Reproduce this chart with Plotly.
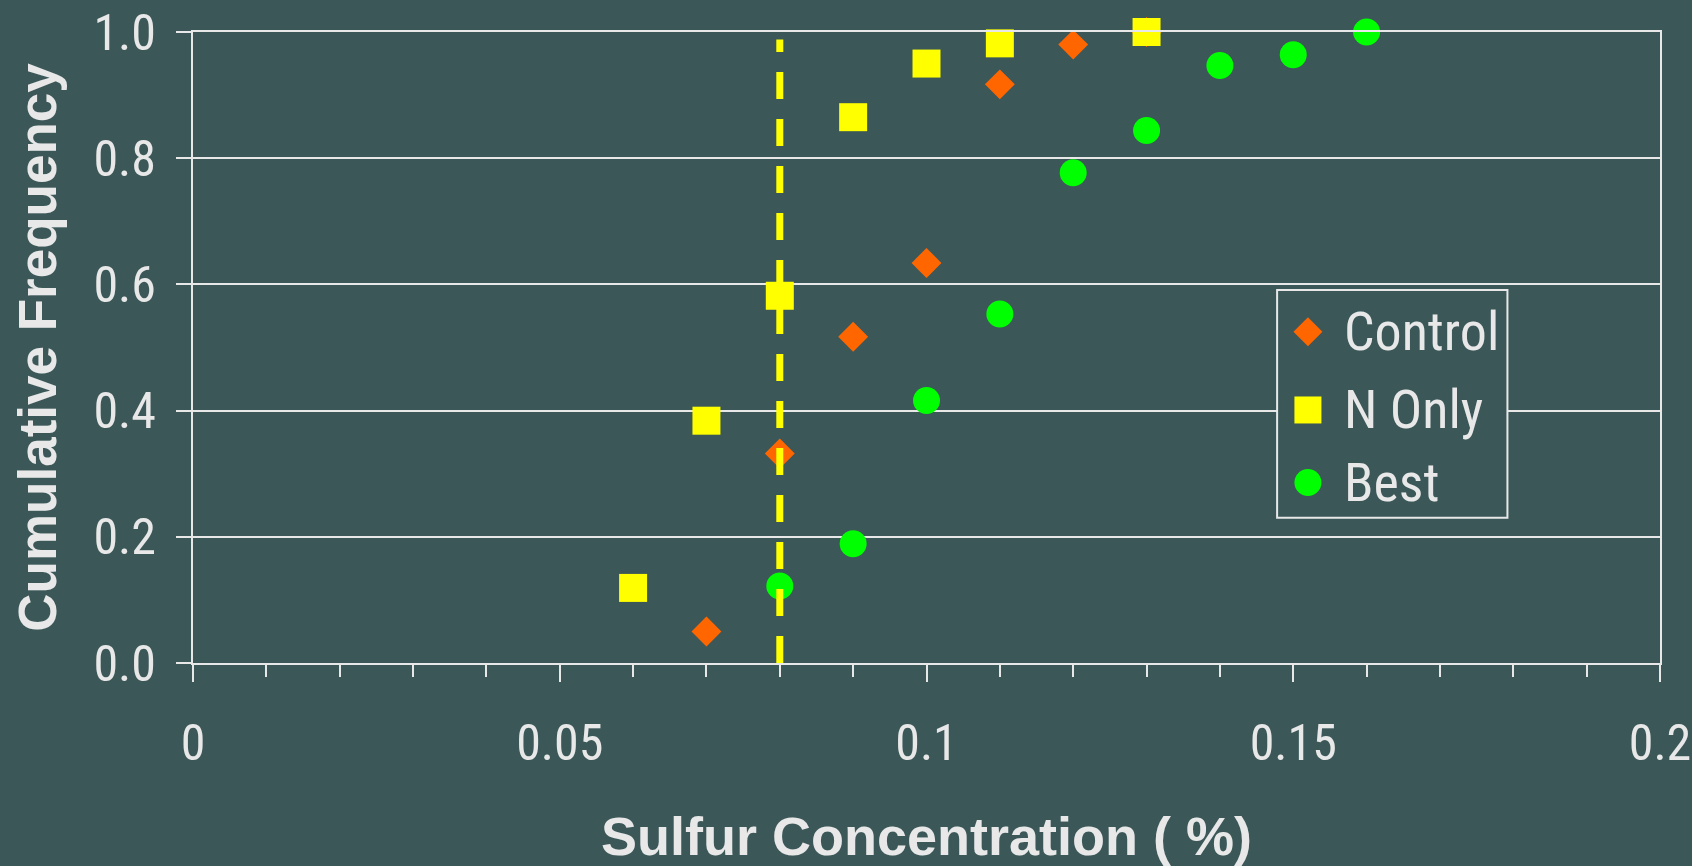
import plotly.graph_objects as go

# ---------------- data ----------------
series_names = ["Control", "N Only", "Best"]

control_x = [0.07, 0.08, 0.09, 0.10, 0.11, 0.12, 0.13]
control_y = [0.050, 0.332, 0.517, 0.634, 0.917, 0.980, 1.000]

nonly_x = [0.06, 0.07, 0.08, 0.09, 0.10, 0.11, 0.13]
nonly_y = [0.119, 0.384, 0.582, 0.865, 0.950, 0.982, 1.000]

best_x = [0.08, 0.09, 0.10, 0.11, 0.12, 0.13, 0.14, 0.15, 0.16]
best_y = [0.122, 0.189, 0.416, 0.553, 0.777, 0.844, 0.947, 0.964, 1.000]

threshold_x = [0.08, 0.08]
threshold_y = [0.0, 0.988]

x_range = [0, 0.2]
y_range = [0, 1]
x_tickvals = [0, 0.05, 0.1, 0.15, 0.2]
x_ticktext = ["0", "0.05", "0.1", "0.15", "0.2"]
y_tickvals = [0.0, 0.2, 0.4, 0.6, 0.8, 1.0]
y_ticktext = ["0.0", "0.2", "0.4", "0.6", "0.8", "1.0"]

x_title = "Sulfur Concentration ( %)"
y_title = "Cumulative Frequency"

# ---------------- styles ----------------
BG = "#3B5758"
FG = "#E8E8E8"
NARROW = "Roboto Condensed, Liberation Sans Narrow, Arial Narrow, Liberation Sans, sans-serif"
BOLD = "Liberation Sans, Arial, sans-serif"
colors = ["#FF6600", "#FFFF00", "#00FF00"]
symbols = ["diamond", "square", "circle"]
sizes = [23, 28, 27]

fig = go.Figure()

for name, xs, ys, c, s, sz in zip(series_names,
                                  [control_x, nonly_x, best_x],
                                  [control_y, nonly_y, best_y],
                                  colors, symbols, sizes):
    fig.add_trace(go.Scatter(
        x=xs, y=ys, mode="markers", name=name, showlegend=False,
        cliponaxis=False,
        marker=dict(color=c, symbol=s, size=sz, line=dict(width=0)),
    ))

fig.add_trace(go.Scatter(
    x=threshold_x, y=threshold_y, mode="lines", showlegend=False,
    line=dict(color="#FFFF00", width=7, dash="27px,20px"),
    hoverinfo="skip",
))

# ---------------- custom legend (large symbols, like the original) ----------------
leg_x0, leg_x1 = 0.739, 0.896
leg_y0, leg_y1 = 0.230, 0.591
leg_sym_x = 0.760
leg_txt_x = 0.783
leg_rows = [0.525, 0.401, 0.286]
half = 13.5  # legend symbol half-size in pixels

fig.add_shape(type="rect", xref="paper", yref="paper",
              x0=leg_x0, x1=leg_x1, y0=leg_y0, y1=leg_y1,
              line=dict(color=FG, width=2), fillcolor=BG, layer="above")

for name, c, s, yy in zip(series_names, colors, symbols, leg_rows):
    common = dict(xref="paper", yref="paper", xsizemode="pixel", ysizemode="pixel",
                  xanchor=leg_sym_x, yanchor=yy, fillcolor=c,
                  line=dict(width=0), layer="above")
    if s == "circle":
        fig.add_shape(type="circle", x0=-half, x1=half, y0=-half, y1=half, **common)
    elif s == "square":
        fig.add_shape(type="rect", x0=-half, x1=half, y0=-half, y1=half, **common)
    else:
        d = half + 1
        fig.add_shape(type="path",
                      path=f"M0,{d} L{d},0 L0,{-d} L{-d},0 Z", **common)
    fig.add_annotation(x=leg_txt_x, y=yy, xref="paper", yref="paper",
                       text=name, showarrow=False, xanchor="left", yanchor="middle",
                       font=dict(family=NARROW, size=54, color=FG))

fig.update_layout(
    width=1692, height=866,
    margin=dict(l=193, r=32, t=32, b=203, autoexpand=False),
    paper_bgcolor=BG, plot_bgcolor=BG,
    showlegend=False,
    xaxis=dict(
        range=x_range, tickvals=x_tickvals, ticktext=x_ticktext, automargin=False,
        showgrid=False, zeroline=False,
        showline=True, linecolor=FG, linewidth=2, mirror=True,
        ticks="outside", ticklen=17, tickwidth=2, tickcolor=FG,
        minor=dict(dtick=0.01, ticks="outside", ticklen=12, tickwidth=2, tickcolor=FG, showgrid=False),
        tickfont=dict(family=NARROW, size=50, color=FG),
        ticklabelstandoff=18,
        title=dict(text=x_title, standoff=46,
                   font=dict(family=BOLD, size=54, color=FG, weight="bold")),
    ),
    yaxis=dict(
        range=y_range, tickvals=y_tickvals, ticktext=y_ticktext, automargin=False,
        showgrid=True, gridcolor=FG, gridwidth=2, zeroline=False,
        showline=True, linecolor=FG, linewidth=2, mirror=True,
        ticks="outside", ticklen=15, tickwidth=2, tickcolor=FG,
        tickfont=dict(family=NARROW, size=50, color=FG),
        ticklabelstandoff=10,
        title=dict(text=y_title, standoff=20,
                   font=dict(family=BOLD, size=53, color=FG, weight="bold")),
    ),
)

fig.write_html("out.html")
